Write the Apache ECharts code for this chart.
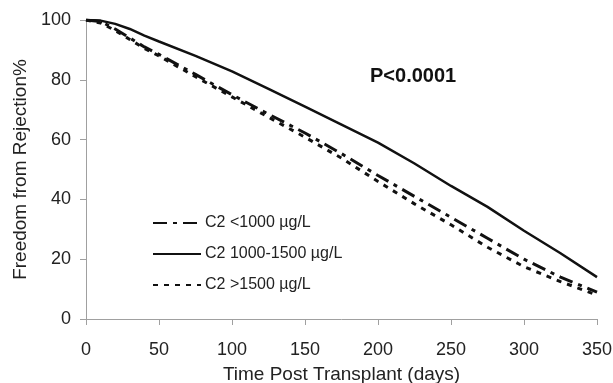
<!DOCTYPE html>
<html>
<head>
<meta charset="utf-8">
<script src="https://cdn.jsdelivr.net/npm/echarts@6/dist/echarts.min.js"></script>
<style>html,body{margin:0;padding:0;background:#fff}#c{width:613px;height:383px}</style>
</head>
<body>
<div id="c"></div>
<script>
var days = [0, 10, 20, 30, 40, 50, 75, 100, 125, 150, 175, 200, 225, 250, 275, 300, 325, 350];
var lowC2 = [100, 99.5, 97, 94, 91, 88.5, 81.8, 75, 68.5, 62.2, 55.3, 48, 41, 34, 27, 20, 14, 9];
var midC2 = [100, 99.8, 98.7, 97, 94.8, 92.8, 88, 82.8, 77, 71, 65, 59, 52, 44.5, 37.5, 29.5, 22, 14];
var highC2 = [100, 99, 96.5, 93.5, 90.5, 88, 81, 74.3, 67.5, 60.8, 53.8, 46, 38.5, 31.5, 24, 17.5, 12.5, 8];
var seriesNames = ['C2 <1000 µg/L', 'C2 1000-1500 µg/L', 'C2 >1500 µg/L'];
var xTicks = [0, 50, 100, 150, 200, 250, 300, 350];
var yTicks = [0, 20, 40, 60, 80, 100];

function pairs(vals) { return days.map(function (d, i) { return [d, vals[i]]; }); }

var chart = echarts.init(document.getElementById('c'));
var font = 'Arial, "Liberation Sans", sans-serif';
chart.setOption({
  animation: false,
  grid: { left: 86, right: 16, top: 20, bottom: 64, outerBoundsMode: 'none', containLabel: false },
  xAxis: {
    type: 'value', min: xTicks[0], max: xTicks[xTicks.length - 1], interval: 50,
    name: 'Time Post Transplant (days)', nameLocation: 'middle', nameGap: 46,
    nameTextStyle: { fontFamily: font, fontSize: 19, color: '#222' },
    axisLine: { lineStyle: { color: '#a0a0a0', width: 1 } },
    axisTick: { show: true, length: 6, lineStyle: { color: '#a0a0a0' } },
    axisLabel: { fontFamily: font, fontSize: 18, color: '#222', margin: 22 },
    splitLine: { show: false }
  },
  yAxis: {
    type: 'value', min: yTicks[0], max: yTicks[yTicks.length - 1], interval: 20,
    name: 'Freedom from Rejection%', nameLocation: 'middle', nameGap: 56,
    nameTextStyle: { fontFamily: font, fontSize: 19, color: '#222' },
    axisLine: { show: true, lineStyle: { color: '#a0a0a0', width: 1 } },
    axisTick: { show: true, length: 6, lineStyle: { color: '#a0a0a0' } },
    axisLabel: { fontFamily: font, fontSize: 18, color: '#222', margin: 15 },
    splitLine: { show: false }
  },
  legend: {
    orient: 'vertical', left: 147, top: 210, itemGap: 15,
    itemWidth: 48, itemHeight: 16,
    itemStyle: { opacity: 0 },
    textStyle: { fontFamily: font, fontSize: 16, color: '#222', padding: [0, 0, 0, -1] },
    data: seriesNames
  },
  graphic: [{
    type: 'text', left: 370, top: 66,
    style: { text: 'P<0.0001', font: 'bold 20px ' + font, fill: '#111' }
  }],
  series: [
    { name: seriesNames[0], type: 'line', data: pairs(lowC2), symbol: 'none', smooth: false,
      lineStyle: { color: '#111', width: 3, type: [14, 6, 4, 6] }, itemStyle: { color: '#111' } },
    { name: seriesNames[1], type: 'line', data: pairs(midC2), symbol: 'none', smooth: false,
      lineStyle: { color: '#111', width: 2.5, type: 'solid' }, itemStyle: { color: '#111' } },
    { name: seriesNames[2], type: 'line', data: pairs(highC2), symbol: 'none', smooth: false,
      lineStyle: { color: '#111', width: 3, type: [5, 6] }, itemStyle: { color: '#111' } }
  ]
});
</script>
</body>
</html>
